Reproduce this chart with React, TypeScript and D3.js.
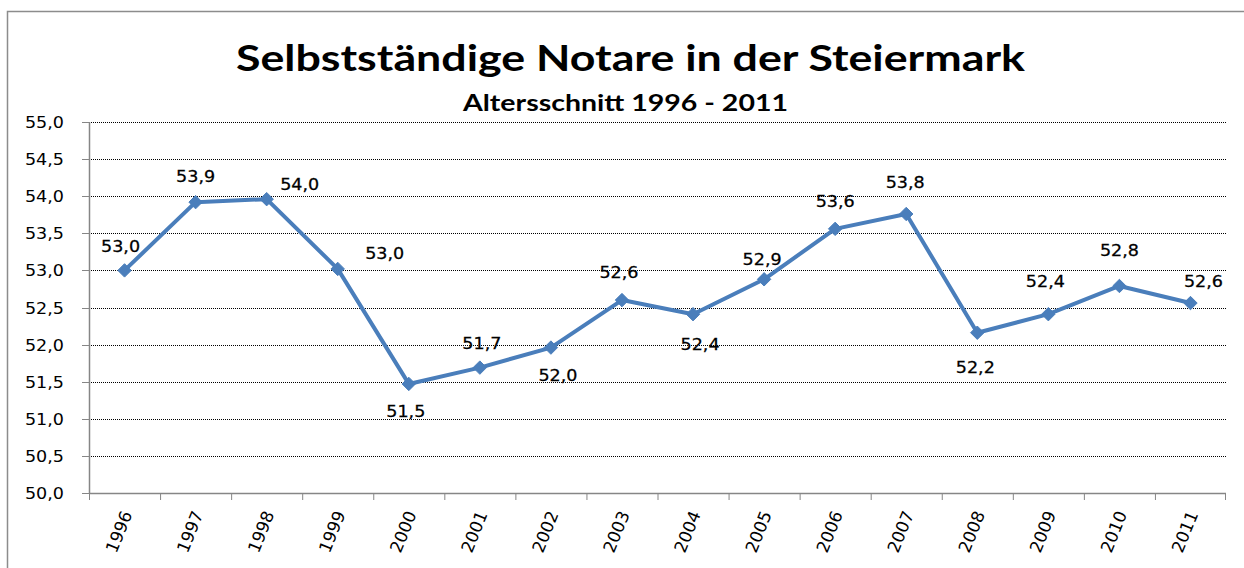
import React from "react";
import * as d3 from "d3";

const years = ["1996","1997","1998","1999","2000","2001","2002","2003","2004","2005","2006","2007","2008","2009","2010","2011"];
const ages = [53.0, 53.92, 53.96, 53.02, 51.47, 51.69, 51.96, 52.6, 52.41, 52.88, 53.56, 53.76, 52.16, 52.41, 52.79, 52.56];
const yTicks = [50, 50.5, 51, 51.5, 52, 52.5, 53, 53.5, 54, 54.5, 55];
// label offsets relative to each marker (dx, dy of baseline), as placed in the original
const labelDx = [-4, 0, 33, 47, -3, 2, 7, -3, 7, -2, 0, -1, -2, -3, 0, 13];
const labelDy = [-18, -20, -9, -10, 33, -19, 33, -22, 36, -14, -22, -26, 40, -27, -30, -16];

const W = 1244, H = 568;
const left = 89, right = 1226, top = 122, bottom = 493;
const SX = 1.17;

export default function App() {
  const x = d3.scaleBand<string>().domain(years).range([left, right]);
  const y = d3.scaleLinear().domain([50, 55]).range([bottom, top]);
  const fmt = (v: number) => v.toFixed(1).replace(".", ",");
  const cxOf = (i: number) => x(years[i])! + x.bandwidth() / 2;
  const line = d3.line<number>().x((_, i) => cxOf(i)).y(d => y(d));
  const tickFont = "'DejaVu Sans', Verdana, sans-serif";
  const titleFont = "Lato, 'Open Sans', sans-serif";
  const diamond = d3.symbol().type(d3.symbolDiamond2).size(115)()!;
  const py = (v: number) => Math.round(y(v)) + 0.5;
  return (
    <svg width={W} height={H} style={{ position: "absolute", left: 0, top: 0 }}>
      <rect x={0} y={0} width={W} height={H} fill="#fff" />
      <rect x={7.5} y={11.5} width={1260} height={600} fill="#fff" stroke="#8c8c8c" strokeWidth={1.5} />
      <text x={236} y={71} textLength={789} lengthAdjust="spacingAndGlyphs" fontFamily={titleFont} fontWeight="bold" fontSize={36} fill="#000">Selbstständige Notare in der Steiermark</text>
      <text x={463} y={111} textLength={325} lengthAdjust="spacingAndGlyphs" fontFamily={titleFont} fontWeight="bold" fontSize={22} fill="#000">Altersschnitt 1996 - 2011</text>
      {yTicks.map(t => (
        <g key={t}>
          {t > 50 && <line x1={left} x2={right} y1={py(t)} y2={py(t)} stroke="#000" strokeWidth={1} strokeDasharray="1,1" />}
          <line x1={left - 7} x2={left} y1={py(t)} y2={py(t)} stroke="#868686" />
          <text transform={`translate(64,${y(t) + 6}) scale(${SX},1)`} textAnchor="end" fontFamily={tickFont} fontSize={15} fill="#000">{fmt(t)}</text>
        </g>
      ))}
      <line x1={left + 0.5} x2={left + 0.5} y1={top} y2={bottom} stroke="#868686" strokeWidth={1.5} />
      <line x1={left} x2={right} y1={bottom + 0.5} y2={bottom + 0.5} stroke="#868686" strokeWidth={1.5} />
      {years.map(yr => (
        <line key={"t" + yr} x1={x(yr)! + 0.5} x2={x(yr)! + 0.5} y1={bottom} y2={bottom + 7} stroke="#868686" />
      ))}
      <line x1={right - 0.5} x2={right - 0.5} y1={bottom} y2={bottom + 7} stroke="#868686" />
      {years.map((yr, i) => (
        <text key={"l" + yr} transform={`translate(${cxOf(i) + 8},${bottom + 21}) rotate(-68)`} textAnchor="end" fontFamily={tickFont} fontSize={17} fill="#000">{yr}</text>
      ))}
      <path d={line(ages)!} fill="none" stroke="#4a7ebb" strokeWidth={4} strokeLinejoin="round" />
      {ages.map((v, i) => (
        <path key={"m" + i} d={diamond} transform={`translate(${cxOf(i)},${y(v)})`} fill="#4a7ebb" stroke="#4a7ebb" strokeWidth={1} />
      ))}
      {ages.map((v, i) => (
        <text key={"d" + i} transform={`translate(${cxOf(i) + labelDx[i]},${y(v) + labelDy[i]}) scale(${SX},1)`} textAnchor="middle" fontFamily={tickFont} fontSize={15} fill="#000" stroke="#000" strokeWidth={0.25}>{fmt(v)}</text>
      ))}
    </svg>
  );
}
